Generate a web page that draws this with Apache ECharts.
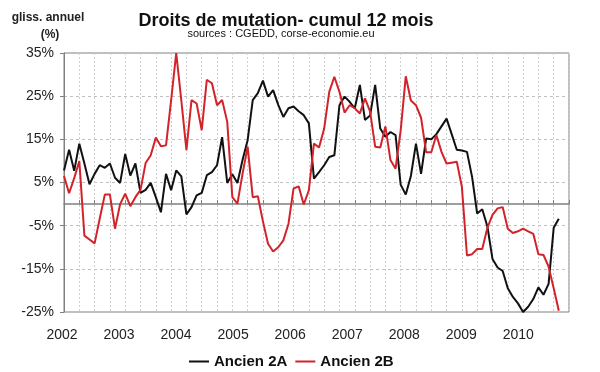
<!DOCTYPE html>
<html><head><meta charset="utf-8">
<script src="https://cdn.jsdelivr.net/npm/echarts@6/dist/echarts.min.js"></script>
<style>html,body{margin:0;padding:0;background:#fff}#c{width:600px;height:372px}</style>
</head><body><div id="c"></div>
<script>
// Monthly categories (Jan 2002 onwards), 100 slots on the axis
const firstYear = 2002;
const monthCount = 100;
const months = [];
for (let k = 0; k < monthCount; k++) {
  const y = firstYear + Math.floor(k / 12), m = (k % 12) + 1;
  months.push(y + '-' + (m < 10 ? '0' + m : m));
}
// Year tick labels shown under the chart
const yearLabels = ['2002','2003','2004','2005','2006','2007','2008','2009','2010'];
// Series values (annual change, %)
const ancien2A = [7.8,12.6,7.7,14,9.4,4.6,7,9,8.4,9.4,
  6.1,4.9,11.6,6.6,9.4,2.6,3.3,4.9,1.6,-1.9,
  7,3.2,7.8,6.4,-2.4,-0.7,2,2.6,6.7,7.4,
  9,15.5,4.9,6.9,4.9,10.2,14.8,24.1,25.7,28.6,
  24.9,26.4,23,20.2,22.2,22.6,21.5,20.6,18.7,5.9,
  7.4,9,10.9,11.3,22.9,24.9,23.7,22.2,27.6,19.5,
  20.5,27.6,17.5,15.6,16.7,16,4.5,2.2,6.5,14,
  7,15.2,15,16.2,18,19.8,16.2,12.6,12.4,12.1,
  6.3,-2.2,-1.2,-5.2,-12.7,-14.7,-15.5,-19.5,-21.5,-23,
  -25,-23.8,-22,-19.3,-21,-18.5,-5.5,-3.4];
const ancien2B = [6.5,2.5,6,10,-7.3,-8.2,-9.1,-3.4,2.2,2.2,
  -5.7,0,2.4,-0.5,1.6,3.3,9.5,11.3,15.4,13.4,
  13.6,24,35,24,12.5,24.1,23.3,17.1,28.8,28,
  22.9,24.1,19.1,1.6,0.1,7,13.3,1.6,1.8,-4,
  -9.2,-11,-10,-8.4,-4.6,3.6,4.1,-0.1,3.2,14,
  13.1,17.5,26,29.5,26,21.2,22.9,22.2,21,24.5,
  21.5,13.3,13.1,18,10.2,8.2,17,29.6,24,22.9,
  20,12,12,16,12.1,9.4,9.6,9.8,4,-11.9,
  -11.6,-10.4,-10.4,-5.5,-2.5,-1,-0.7,-5.7,-6.7,-6.3,
  -5.7,-6.3,-6.9,-11.6,-11.8,-14.5,-19.5,-24.7];
const seriesNames = ['Ancien 2A', 'Ancien 2B'];

const chart = echarts.init(document.getElementById('c'), null, {renderer: 'canvas'});
const axisGrey = '#808080';
chart.setOption({
  animation: false,
  backgroundColor: '#ffffff',
  textStyle: {fontFamily: 'Liberation Sans, Arial, sans-serif'},
  graphic: [
    {type: 'text', x: 286, y: 21, style: {text: 'Droits de mutation- cumul 12 mois', textAlign: 'center', textVerticalAlign: 'middle', font: 'bold 18px "Liberation Sans", Arial, sans-serif', fill: '#111'}},
    {type: 'text', x: 281, y: 33.5, style: {text: 'sources : CGEDD, corse-economie.eu', textAlign: 'center', textVerticalAlign: 'middle', font: '11px "Liberation Sans", Arial, sans-serif', fill: '#111'}},
    {type: 'text', x: 48, y: 17.5, style: {text: 'gliss. annuel', textAlign: 'center', textVerticalAlign: 'middle', font: 'bold 12px "Liberation Sans", Arial, sans-serif', fill: '#222'}},
    {type: 'text', x: 50, y: 34.5, style: {text: '(%)', textAlign: 'center', textVerticalAlign: 'middle', font: 'bold 12px "Liberation Sans", Arial, sans-serif', fill: '#222'}}
  ],
  grid: {left: 64, right: 31, top: 53, bottom: 60, show: true, borderColor: axisGrey, borderWidth: 1, backgroundColor: 'transparent'},
  legend: {
    data: seriesNames, left: 184, top: 349, icon: 'rect', itemWidth: 20, itemHeight: 2, itemGap: 8,
    textStyle: {fontSize: 15, fontWeight: 'bold', color: '#111', fontFamily: 'Liberation Sans, Arial, sans-serif'}
  },
  xAxis: [
    {
      type: 'category', data: months, boundaryGap: false, position: 'bottom',
      axisLine: {onZero: true, lineStyle: {color: axisGrey, width: 1.5}},
      axisTick: {show: true, inside: true, length: 4, interval: 2, lineStyle: {color: axisGrey}},
      axisLabel: {show: false},
      splitLine: {show: true, interval: 2, lineStyle: {color: '#cfcfcf', type: [2, 2], width: 1}}
    },
    {
      type: 'value', position: 'bottom', min: 2002, max: 2002 + 505 / 57.04, interval: 1,
      axisLine: {show: false, onZero: false}, axisTick: {show: false}, splitLine: {show: false},
      axisLabel: {
        margin: 16, fontSize: 14, color: '#222', padding: [0, 4, 0, 0],
        showMaxLabel: false,
        formatter: function (v) {
          const idx = Math.round(v) - 2002;
          return Math.abs(v - Math.round(v)) < 1e-6 && yearLabels[idx] ? yearLabels[idx] : '';
        }
      }
    }
  ],
  yAxis: {
    type: 'value', min: -25, max: 35, interval: 10,
    axisLine: {show: true, onZero: false, lineStyle: {color: axisGrey, width: 1}},
    axisTick: {show: true, length: 4, lineStyle: {color: axisGrey}},
    axisLabel: {formatter: '{value}%', fontSize: 14, color: '#222', margin: 10},
    splitLine: {show: true, lineStyle: {color: '#c0c0c0', type: [3, 3], width: 1}}
  },
  series: [
    {name: seriesNames[0], type: 'line', data: ancien2A, symbol: 'none', xAxisIndex: 0,
     lineStyle: {color: '#111111', width: 2}, itemStyle: {color: '#111111'}},
    {name: seriesNames[1], type: 'line', data: ancien2B, symbol: 'none', xAxisIndex: 0,
     lineStyle: {color: '#d2232a', width: 2}, itemStyle: {color: '#d2232a'}}
  ]
});
</script>
</body></html>
